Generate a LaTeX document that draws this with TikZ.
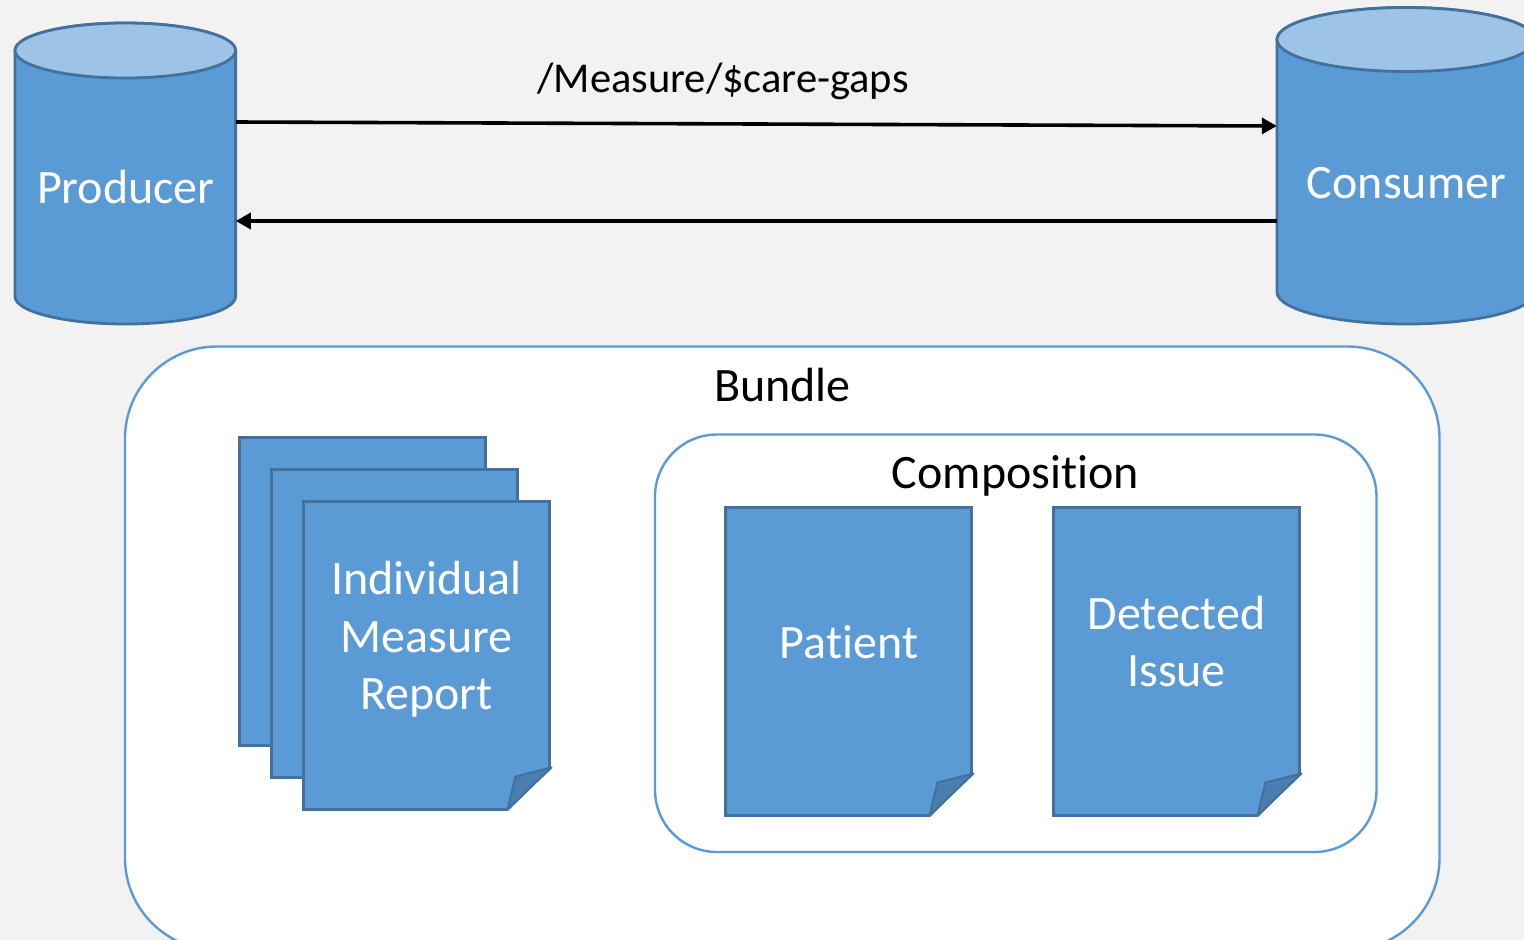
\documentclass[tikz,border=0pt]{standalone}
\usepackage{fontspec}
\setmainfont[Ligatures=NoCommon]{Carlito}
\usetikzlibrary{arrows.meta}
\definecolor{bluefill}{HTML}{5B9BD5}
\definecolor{bluedark}{HTML}{41719C}
\definecolor{bluelight}{HTML}{9DC3E6}
\definecolor{foldfill}{HTML}{4A7EAE}
\definecolor{bggray}{HTML}{F2F2F2}
\tikzset{
  whitelabel/.style={text=white,font=\fontsize{48}{57.5}\selectfont,align=center,inner sep=0pt},
  blacklabel/.style={text=black,font=\fontsize{48}{57.5}\selectfont,align=center,inner sep=0pt},
  framebox/.style={draw=bluefill,line width=2.4pt,fill=white,rounded corners=#1},
  flow/.style={draw=black,line width=3.6pt,-{Triangle[length=15pt,width=16pt]}},
  pageedge/.style={draw=bluedark,line width=2.8pt,fill=bluefill},
}
\newcommand{\cyl}[5]{% cx, rx, top-centre y, ry, side-bottom y
  \path[pageedge] (#1-#2,#3) -- (#1-#2,#5) arc[start angle=180,end angle=0,x radius=#2,y radius=#4]
     -- (#1+#2,#3) arc[start angle=0,end angle=-180,x radius=#2,y radius=#4] -- cycle;
  \path[draw=bluedark,line width=2.8pt,fill=bluelight] (#1,#3) ellipse[x radius=#2,y radius=#4];
}
\newcommand{\docpage}[1]{%
  \begin{scope}[shift={(#1)}]
    \path[pageedge,line join=miter] (0,0) -- (246,0) -- (246,266) -- (204,308) -- (0,308) -- cycle;
    \path[draw=bluedark,line width=2pt,fill=foldfill,line join=round] (248,266) -- (212,275) -- (204,308) -- cycle;
  \end{scope}
}
\begin{document}
\begin{tikzpicture}[x=1pt,y=-1pt]
\useasboundingbox (0,0) rectangle (1524,940);
\clip (0,0) rectangle (1524,940);
\fill[bggray] (0,0) rectangle (1524,940);

% cylinders
\cyl{125.3}{110.3}{50.5}{27.5}{296.5}
\cyl{1406}{129}{39.5}{32}{292}
\node[inner sep=0pt,minimum width=220.6pt,minimum height=301pt] (producer) at (125.3,173.5) {};
\node[inner sep=0pt,minimum width=258pt,minimum height=317pt] (consumer) at (1406,165.5) {};
\node[whitelabel] (producertext) at (125.8,187.5) {Producer};
\node[whitelabel] (consumertext) at (1406.5,183) {Consumer};

% connectors
\coordinate (pout) at (producer.east |- 0,122);
\coordinate (cin) at (consumer.west |- 0,126);
\coordinate (cout) at (consumer.west |- 0,221);
\coordinate (pin) at (producer.east |- 0,221);
\draw[flow] (pout) -- (cin);
\draw[flow] (cout) -- (pin);
\node[blacklabel,font=\fontsize{42.5}{50}\selectfont] (measure) at (723,81) {/Measure/\$care-gaps};

% bundle
\draw[framebox=92pt] (125,346.5) rectangle (1439.5,950);
\node[blacklabel] (bundle) at (782.5,385.5) {Bundle};

% composition
\draw[framebox=62pt] (655,434.5) rectangle (1376.5,852);
\node[blacklabel] (composition) at (1015.5,475.5) {Composition};

% pages
\docpage{239.5,437.5}
\docpage{271.5,469.5}
\docpage{303.5,501.5}
\docpage{725.5,507.5}
\docpage{1053.5,507.5}
\node[whitelabel] (report) at (426.5,639.5) {Individual\\Measure\\Report};
\node[whitelabel] (patient) at (849,642) {Patient};
\node[whitelabel] (issue) at (1176.5,641.5) {Detected\\Issue};
\end{tikzpicture}
\end{document}
